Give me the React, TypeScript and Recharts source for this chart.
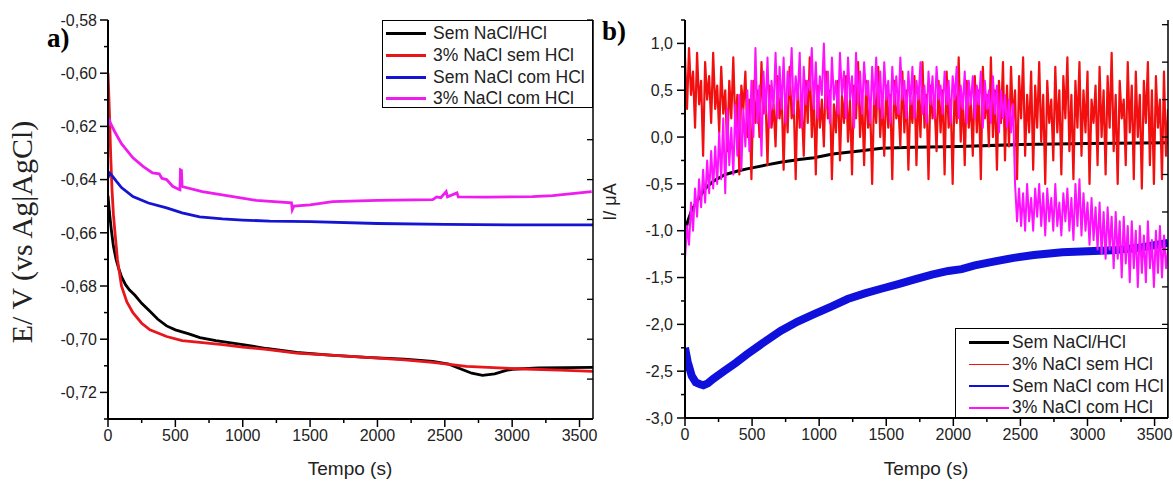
import { LineChart, Line, XAxis, YAxis, Legend } from "recharts";

const FONT = "'Liberation Sans', Arial, sans-serif";
const SERIF = "'Liberation Serif', 'Times New Roman', serif";

const NAMES = ["Sem NaCl/HCl", "3% NaCl sem HCl", "Sem NaCl com HCl", "3% NaCl com HCl"];
const COLORS_A = ["#000000", "#e8161b", "#1414d2", "#ee1cee"];
const COLORS_B = ["#000000", "#f20f0f", "#1010dc", "#ff10ff"];

// ---- a) potential vs time ----
const aBlackT = [0, 10, 25, 40, 60, 80, 100, 130, 160, 200, 250, 311, 370, 435, 500, 600, 682, 800, 1000, 1176, 1400, 1650, 1919, 2200, 2410, 2530, 2610, 2700, 2780, 2870, 2950, 3000, 3200, 3400, 3600];
const aBlackE = [-0.646, -0.652, -0.659, -0.665, -0.67, -0.6735, -0.6765, -0.6795, -0.6815, -0.6835, -0.6865, -0.6895, -0.6925, -0.695, -0.6965, -0.698, -0.6994, -0.7005, -0.702, -0.7035, -0.705, -0.706, -0.7068, -0.7075, -0.7083, -0.7094, -0.711, -0.7128, -0.7136, -0.713, -0.7118, -0.7113, -0.7108, -0.7107, -0.7106];

const aRedT = [0, 10, 20, 30, 40, 52, 70, 100, 140, 185, 250, 311, 435, 550, 682, 850, 1000, 1176, 1400, 1650, 1919, 2200, 2410, 2660, 2900, 3100, 3350, 3600];
const aRedE = [-0.6, -0.614, -0.631, -0.644, -0.653, -0.66, -0.67, -0.68, -0.686, -0.69, -0.694, -0.6965, -0.699, -0.7005, -0.7012, -0.702, -0.703, -0.7038, -0.7052, -0.706, -0.7068, -0.7078, -0.7087, -0.7102, -0.7108, -0.7112, -0.7116, -0.7121];

const aBlueT = [0, 10, 30, 60, 100, 185, 300, 435, 550, 680, 850, 1000, 1200, 1500, 2000, 2500, 3000, 3600];
const aBlueE = [-0.6395, -0.6375, -0.6385, -0.6405, -0.643, -0.6464, -0.6488, -0.6506, -0.6525, -0.654, -0.6548, -0.6552, -0.6556, -0.6558, -0.6565, -0.6568, -0.657, -0.657];

const aMagT = [0, 5, 20, 50, 100, 185, 260, 330, 380, 400, 435, 480, 520, 534, 538, 545, 550, 556, 700, 927, 1100, 1362, 1368, 1380, 1500, 1668, 2000, 2410, 2440, 2470, 2510, 2520, 2590, 2600, 2800, 3150, 3300, 3590];
const aMagE = [-0.62, -0.6168, -0.619, -0.622, -0.6265, -0.6318, -0.635, -0.6375, -0.6378, -0.6395, -0.64, -0.6425, -0.6435, -0.6438, -0.6363, -0.6365, -0.6425, -0.6427, -0.6445, -0.6464, -0.6478, -0.6487, -0.6513, -0.65, -0.6495, -0.6483, -0.6478, -0.6475, -0.6465, -0.6468, -0.6445, -0.6465, -0.645, -0.6465, -0.6466, -0.6464, -0.646, -0.6445];

// ---- b) current vs time ----
const STEP_B = 15; // s between samples for the noisy traces
const bRedI = [
  0.85, 0.3, 0.95, 0.45, 0.7, 0.1, 0.9, 0.35, 0.6, -0.2, 0.8, 0.4, 0.65, 0.15, 0.9, 0.3,
  0.55, 0.05, 0.75, 0.25, 0.5, -0.15, 0.6, 0.2, 0.85, 0.1, 0.45, -0.4, 0.55, 0.3, 0.7, 0.0,
  0.4, -0.45, 0.6, 0.15, 0.5, 0.0, 0.8, 0.25, 0.45, -0.3, 0.55, 0.1, 0.35, -0.1, 0.65, 0.2,
  0.5, -0.35, 0.45, 0.05, 0.75, 0.2, 0.4, -0.45, 0.55, 0.1, 0.35, -0.2, 0.6, 0.15, 0.85, 0.0,
  0.45, -0.4, 0.55, 0.1, 0.4, -0.1, 0.7, 0.2, 0.5, -0.45, 0.35, 0.05, 0.6, -0.25, 0.45, 0.15,
  0.65, -0.05, 0.4, -0.4, 0.55, 0.2, 0.8, 0.0, 0.45, -0.3, 0.6, 0.1, 0.35, -0.5, 0.5, 0.15,
  0.75, 0.0, 0.4, -0.2, 0.55, 0.1, 0.45, -0.45, 0.6, 0.2, 0.35, -0.1, 0.7, 0.05, 0.5, -0.35,
  0.4, 0.15, 0.65, -0.3, 0.5, 0.0, 0.8, 0.1, 0.45, -0.45, 0.55, 0.2, 0.35, -0.15, 0.6, 0.05,
  0.5, -0.4, 0.7, 0.1, 0.4, -0.5, 0.55, 0.15, 0.85, -0.05, 0.45, -0.3, 0.6, 0.1, 0.4, -0.2,
  0.65, 0.05, 0.5, -0.45, 0.75, 0.2, 0.45, -0.1, 0.85, 0.0, 0.5, -0.35, 0.6, 0.15, 0.8, -0.25,
  0.55, -0.1, 0.75, 0.15, 0.5, -0.45, 0.65, 0.2, 0.85, -0.2, 0.45, 0.05, 0.7, -0.35, 0.55, 0.1,
  0.8, -0.05, 0.45, -0.5, 0.6, 0.15, 0.4, -0.25, 0.75, 0.05, 0.5, -0.4, 0.65, 0.2, 0.85, -0.15,
  0.45, -0.45, 0.6, 0.1, 0.8, -0.2, 0.5, 0.05, 0.7, -0.5, 0.4, 0.15, 0.55, -0.3, 0.75, 0.0,
  0.5, -0.4, 0.65, 0.1, 0.9, -0.15, 0.45, -0.5, 0.6, 0.2, 0.4, -0.3, 0.8, 0.05, 0.55, -0.45,
  0.7, 0.0, 0.45, -0.55, 0.6, 0.15, 0.8, -0.3, 0.5, -0.5, 0.65, 0.1, 0.4, -0.45, 0.7, -0.2,
  0.3,
];
const bMagI = [
  -1.3, -0.95, -1.15, -0.7, -1.0, -0.55, -0.85, -0.45, -0.75, -0.35, -0.7, -0.25, -0.6, -0.15, -0.55, -0.1,
  -0.5, 0.05, -0.45, 0.2, -0.6, 0.3, -0.3, 0.1, -0.4, 0.35, -0.2, 0.45, -0.35, 0.3, -0.1, 0.5,
  -0.15, 0.6, 0.0, 0.95, 0.15, 0.55, -0.2, 0.7, 0.25, 0.85, 0.1, 0.6, 0.3, 0.9, 0.2, 0.75,
  0.3, 0.85, 0.15, 0.7, 0.45, 0.95, 0.25, 0.65, 0.4, 0.9, 0.1, 0.75, 0.35, 0.6, 0.5, 0.95,
  0.3, 0.8, 0.2, 0.65, 0.45, 1.0, 0.3, 0.7, 0.15, 0.85, 0.4, 0.6, 0.25, 0.9, 0.45, 0.7,
  0.2, 0.85, 0.4, 0.65, 0.1, 0.9, 0.35, 0.7, 0.25, 0.8, 0.45, 0.6, 0.15, 0.75, 0.35, 0.85,
  0.3, 0.7, 0.2, 0.8, 0.4, 0.6, 0.15, 0.75, 0.35, 0.65, 0.25, 0.85, 0.4, 0.6, 0.2, 0.7,
  0.35, 0.75, 0.2, 0.6, 0.4, 0.8, 0.25, 0.55, 0.15, 0.7, 0.35, 0.65, 0.2, 0.75, 0.4, 0.55,
  0.25, 0.7, 0.35, 0.6, 0.15, 0.65, 0.4, 0.75, 0.2, 0.55, 0.3, 0.7, 0.15, 0.6, 0.35, 0.65,
  0.2, 0.55, 0.35, 0.7, 0.1, 0.6, 0.3, 0.5, 0.15, 0.65, 0.25, 0.55, 0.05, 0.5, 0.2, 0.45,
  0.1, 0.4, 0.05, 0.35, -0.5, -0.9, -0.55, -0.95, -0.6, -1.0, -0.5, -0.9, -0.65, -1.0, -0.55, -0.85,
  -0.5, -0.95, -0.6, -1.05, -0.55, -0.9, -0.65, -1.0, -0.5, -0.95, -0.7, -1.05, -0.6, -0.9, -0.55, -1.0,
  -0.65, -1.1, -0.5, -0.95, -0.45, -1.05, -0.6, -1.0, -0.7, -1.15, -0.65, -1.1, -0.75, -1.2, -0.7, -1.25,
  -0.8, -1.3, -0.75, -1.2, -0.85, -1.4, -0.8, -1.3, -0.9, -1.5, -0.85, -1.35, -0.95, -1.55, -0.9, -1.4,
  -1.0, -1.6, -0.95, -1.45, -1.05, -1.55, -0.9, -1.4, -1.1, -1.6, -1.0, -1.45, -0.95, -1.5, -1.05, -1.4,
  -1.2,
];
const bBlackT = [0, 20, 50, 100, 150, 212, 300, 400, 462, 600, 712, 850, 962, 1100, 1300, 1465, 1700, 2040, 2500, 3000, 3600];
const bBlackI = [-1.05, -0.9, -0.78, -0.66, -0.55, -0.47, -0.4, -0.36, -0.34, -0.3, -0.27, -0.24, -0.22, -0.18, -0.15, -0.12, -0.11, -0.1, -0.08, -0.07, -0.06];
const bBlueT = [0, 20, 50, 80, 112, 137, 170, 212, 300, 380, 462, 580, 712, 840, 962, 1090, 1212, 1340, 1462, 1590, 1712, 1840, 1962, 2062, 2160, 2300, 2450, 2600, 2812, 3000, 3187, 3400, 3562, 3600];
const bBlueI = [-2.25, -2.4, -2.55, -2.62, -2.64, -2.65, -2.63, -2.58, -2.49, -2.41, -2.32, -2.2, -2.07, -1.97, -1.89, -1.81, -1.73, -1.67, -1.62, -1.57, -1.52, -1.47, -1.43, -1.41, -1.37, -1.33, -1.29, -1.26, -1.23, -1.22, -1.21, -1.18, -1.14, -1.13];

// ---- ticks ----
const timeTicks = [0, 250, 500, 750, 1000, 1250, 1500, 1750, 2000, 2250, 2500, 2750, 3000, 3250, 3500];
const topTicks = [0, 360, 720, 1080, 1440, 1800, 2160, 2520, 2880, 3240, 3600];
const aYTicks = [-0.73, -0.72, -0.71, -0.7, -0.69, -0.68, -0.67, -0.66, -0.65, -0.64, -0.63, -0.62, -0.61, -0.6, -0.59, -0.58];
const aYRightTicks = [-0.58, -0.595, -0.61, -0.625, -0.64, -0.655, -0.67, -0.685, -0.7, -0.715, -0.73];
const bYTicks = [-3, -2.75, -2.5, -2.25, -2, -1.75, -1.5, -1.25, -1, -0.75, -0.5, -0.25, 0, 0.25, 0.5, 0.75, 1, 1.25];
const bYRightTicks = [1.2, 0.8, 0.4, 0, -0.4, -0.8, -1.2, -1.6, -2, -2.4, -2.8];

const rows = (t: number[], v: number[]) => t.map((x, i) => ({ t: x, v: v[i] }));
const sampled = (v: number[]) => v.map((y, i) => ({ t: i * STEP_B, v: y }));

const comma = (v: number, d: number) => v.toFixed(d).replace(".", ",");

const leftTick = (isMajor: (v: number) => boolean, fmt: (v: number) => string, gap: number) => (p: any) => {
  const { x, y, payload } = p;
  const major = isMajor(payload.value);
  return (
    <g>
      <line x1={x - (major ? 8 : 4)} x2={x} y1={y} y2={y} stroke="#000" strokeWidth={1.5} />
      {major && (
        <text x={x - gap} y={y} dy="0.36em" textAnchor="end" fontSize={16} fontFamily={FONT} fill="#222">
          {fmt(payload.value)}
        </text>
      )}
    </g>
  );
};

const bottomTick = (p: any) => {
  const { x, y, payload } = p;
  const major = payload.value % 500 === 0;
  return (
    <g>
      <line x1={x} x2={x} y1={y} y2={y + (major ? 8 : 4)} stroke="#000" strokeWidth={1.5} />
      {major && (
        <text x={x} y={y + 22} textAnchor="middle" fontSize={16} fontFamily={FONT} fill="#222">
          {payload.value}
        </text>
      )}
    </g>
  );
};

const topTick = (p: any) => <line x1={p.x} x2={p.x} y1={p.y} y2={p.y + 5} stroke="#000" strokeWidth={1.3} />;
const rightTick = (p: any) => <line x1={p.x - 6} x2={p.x} y1={p.y} y2={p.y} stroke="#000" strokeWidth={1.3} />;

type LegendItem = { name: string; color: string; width: number };

const legendBox = (items: LegendItem[], padTop: number, lineLeft: number, lineLen: number, gap: number) => () => (
  <div
    style={{
      width: "100%",
      height: "100%",
      boxSizing: "border-box",
      border: "1.5px solid #000",
      background: "#fff",
      paddingTop: padTop,
      fontFamily: FONT,
      fontSize: 17.5,
      color: "#222",
    }}
  >
    {items.map((it) => (
      <div key={it.name} style={{ display: "flex", alignItems: "center", height: 21.7, whiteSpace: "nowrap" }}>
        <div style={{ marginLeft: lineLeft, width: lineLen, height: it.width, background: it.color }} />
        <span style={{ marginLeft: gap }}>{it.name}</span>
      </div>
    ))}
  </div>
);

const legendA = NAMES.map((n, i) => ({ name: n, color: COLORS_A[i], width: 3 }));
const legendB = NAMES.map((n, i) => ({ name: n, color: COLORS_B[i], width: [3, 1.5, 2.5, 1.5][i] }));

const tempoTitle = (cx: number) => () => (
  <text x={cx} y={475} textAnchor="middle" fontSize={19} fontFamily={FONT} fill="#222">
    Tempo (s)
  </text>
);

const PanelA = () => (
  <LineChart width={600} height={481} margin={{ top: 20, right: 0, bottom: 0, left: 0 }}>
    <XAxis
      dataKey="t"
      type="number"
      domain={[0, 3600]}
      allowDataOverflow
      ticks={timeTicks}
      interval={0}
      height={62}
      tickSize={0}
      tickMargin={0}
      tick={bottomTick}
      axisLine={{ stroke: "#000", strokeWidth: 2 }}
      label={tempoTitle(350)}
    />
    <XAxis
      xAxisId="top"
      orientation="top"
      dataKey="t"
      type="number"
      domain={[0, 3600]}
      allowDataOverflow
      ticks={topTicks}
      interval={0}
      height={0}
      tickSize={0}
      tickMargin={0}
      tick={topTick}
      axisLine={{ stroke: "#000", strokeWidth: 1.5 }}
    />
    <YAxis
      type="number"
      domain={[-0.73, -0.58]}
      allowDataOverflow
      ticks={aYTicks}
      interval={0}
      width={108}
      tickSize={0}
      tickMargin={0}
      tick={leftTick((v) => Math.round(v * 100) % 2 === 0, (v) => comma(v, 2), 11)}
      axisLine={{ stroke: "#000", strokeWidth: 2 }}
      label={() => (
        <text transform="translate(32,232) rotate(-90)" textAnchor="middle" fontSize={30} fontFamily={SERIF} fill="#222">
          E/ V (vs Ag|AgCl)
        </text>
      )}
    />
    <YAxis
      yAxisId="right"
      orientation="right"
      type="number"
      domain={[-0.73, -0.58]}
      allowDataOverflow
      ticks={aYRightTicks}
      interval={0}
      width={7}
      tickSize={0}
      tickMargin={0}
      tick={rightTick}
      axisLine={{ stroke: "#000", strokeWidth: 1.5 }}
    />
    <Legend
      layout="vertical"
      align="center"
      verticalAlign="middle"
      wrapperStyle={{ left: 382, top: 20, width: 211, height: 88 }}
      content={legendBox(legendA, 2, 3, 40, 7)}
    />
    <Line data={rows(aBlackT, aBlackE)} dataKey="v" name={NAMES[0]} stroke={COLORS_A[0]} strokeWidth={2.8} dot={false} activeDot={false} isAnimationActive={false} />
    <Line data={rows(aRedT, aRedE)} dataKey="v" name={NAMES[1]} stroke={COLORS_A[1]} strokeWidth={2.8} dot={false} activeDot={false} isAnimationActive={false} />
    <Line data={rows(aBlueT, aBlueE)} dataKey="v" name={NAMES[2]} stroke={COLORS_A[2]} strokeWidth={2.8} dot={false} activeDot={false} isAnimationActive={false} />
    <Line data={rows(aMagT, aMagE)} dataKey="v" name={NAMES[3]} stroke={COLORS_A[3]} strokeWidth={2.8} dot={false} activeDot={false} isAnimationActive={false} />
  </LineChart>
);

const PanelB = () => (
  <LineChart width={573} height={481} margin={{ top: 20, right: 0, bottom: 0, left: 0 }}>
    <XAxis
      dataKey="t"
      type="number"
      domain={[0, 3600]}
      allowDataOverflow
      ticks={timeTicks}
      interval={0}
      height={63}
      tickSize={0}
      tickMargin={0}
      tick={bottomTick}
      axisLine={{ stroke: "#000", strokeWidth: 2 }}
      label={tempoTitle(326)}
    />
    <XAxis
      xAxisId="top"
      orientation="top"
      dataKey="t"
      type="number"
      domain={[0, 3600]}
      allowDataOverflow
      ticks={topTicks}
      interval={0}
      height={0}
      tickSize={0}
      tickMargin={0}
      tick={topTick}
      axisLine={{ stroke: "#000", strokeWidth: 1.5 }}
    />
    <YAxis
      type="number"
      domain={[-3, 1.25]}
      allowDataOverflow
      ticks={bYTicks}
      interval={0}
      width={85}
      tickSize={0}
      tickMargin={0}
      tick={leftTick((v) => Math.round(v * 100) % 50 === 0, (v) => comma(v, 1), 12)}
      axisLine={{ stroke: "#000", strokeWidth: 2 }}
      label={() => (
        <text transform="translate(16,202) rotate(-90)" textAnchor="middle" fontSize={18} fontFamily={FONT} fill="#222">
          I/ μA
        </text>
      )}
    />
    <YAxis
      yAxisId="right"
      orientation="right"
      type="number"
      domain={[-3, 1.25]}
      allowDataOverflow
      ticks={bYRightTicks}
      interval={0}
      width={5}
      tickSize={0}
      tickMargin={0}
      tick={rightTick}
      axisLine={{ stroke: "#000", strokeWidth: 1.5 }}
    />
    <Legend
      layout="vertical"
      align="center"
      verticalAlign="middle"
      wrapperStyle={{ left: 355, top: 328, width: 213, height: 90 }}
      content={legendBox(legendB, 3, 13, 40, 3)}
    />
    <Line data={rows(bBlackT, bBlackI)} dataKey="v" name={NAMES[0]} stroke={COLORS_B[0]} strokeWidth={3} dot={false} activeDot={false} isAnimationActive={false} />
    <Line data={sampled(bRedI)} dataKey="v" name={NAMES[1]} stroke={COLORS_B[1]} strokeWidth={2.2} strokeLinejoin="round" dot={false} activeDot={false} isAnimationActive={false} />
    <Line data={rows(bBlueT, bBlueI)} dataKey="v" name={NAMES[2]} stroke={COLORS_B[2]} strokeWidth={8} dot={false} activeDot={false} isAnimationActive={false} />
    <Line data={sampled(bMagI)} dataKey="v" name={NAMES[3]} stroke={COLORS_B[3]} strokeWidth={2} strokeLinejoin="round" dot={false} activeDot={false} isAnimationActive={false} />
  </LineChart>
);

export default function App() {
  return (
    <div style={{ position: "absolute", left: 0, top: 0, width: 1173, height: 481, background: "#fff", overflow: "hidden" }}>
      <div style={{ position: "absolute", left: 0, top: 0 }}>
        <PanelA />
      </div>
      <div style={{ position: "absolute", left: 600, top: 0 }}>
        <PanelB />
      </div>
      <svg width={1173} height={481} style={{ position: "absolute", left: 0, top: 0, pointerEvents: "none" }}>
        <text x={47} y={47} fontSize={27} fontWeight="bold" fontFamily={SERIF} fill="#000">a)</text>
        <text x={602} y={40} fontSize={27} fontWeight="bold" fontFamily={SERIF} fill="#000">b)</text>
      </svg>
    </div>
  );
}
